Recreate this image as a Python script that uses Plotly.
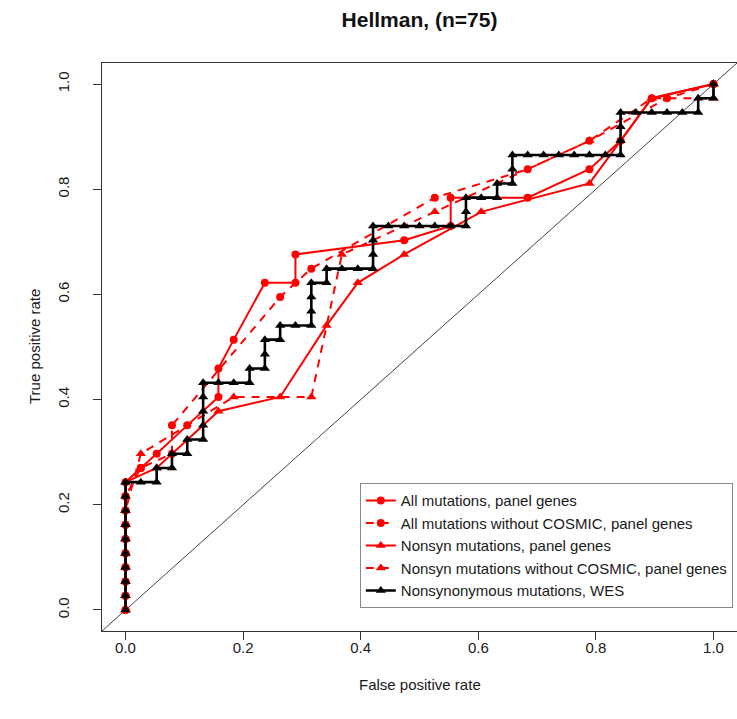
import plotly.graph_objects as go

# ---- data ----
wes_fpr = [0, 0, 0, 0, 0, 0, 0, 0, 0, 0,
           0.026, 0.053, 0.053, 0.079, 0.079, 0.105, 0.105,
           0.132, 0.132, 0.132, 0.132, 0.132, 0.158, 0.184, 0.211, 0.211,
           0.237, 0.237, 0.237, 0.263, 0.263, 0.289, 0.316, 0.316, 0.316, 0.316,
           0.342, 0.342, 0.368, 0.395, 0.421, 0.421, 0.421, 0.421,
           0.447, 0.474, 0.500, 0.526, 0.553, 0.579, 0.579, 0.579,
           0.605, 0.632, 0.632, 0.658, 0.658, 0.658,
           0.684, 0.711, 0.737, 0.763, 0.789, 0.816,
           0.842, 0.842, 0.842, 0.842, 0.868, 0.895, 0.921, 0.947,
           0.974, 0.974, 1.0, 1.0]
wes_tpr = [0, 0.027, 0.054, 0.081, 0.108, 0.135, 0.162, 0.189, 0.216, 0.243,
           0.243, 0.243, 0.270, 0.270, 0.297, 0.297, 0.324,
           0.324, 0.351, 0.378, 0.405, 0.432, 0.432, 0.432, 0.432, 0.459,
           0.459, 0.486, 0.514, 0.514, 0.541, 0.541, 0.541, 0.568, 0.595, 0.622,
           0.622, 0.649, 0.649, 0.649, 0.649, 0.676, 0.703, 0.730,
           0.730, 0.730, 0.730, 0.730, 0.730, 0.730, 0.757, 0.784,
           0.784, 0.784, 0.811, 0.811, 0.838, 0.865,
           0.865, 0.865, 0.865, 0.865, 0.865, 0.865,
           0.865, 0.892, 0.919, 0.946, 0.946, 0.946, 0.946, 0.946,
           0.946, 0.973, 0.973, 1.0]

all_fpr = [0, 0, 0, 0, 0, 0, 0, 0, 0, 0,
           0.026, 0.053, 0.105, 0.158, 0.158, 0.184, 0.237, 0.289, 0.289,
           0.474, 0.553, 0.553, 0.684, 0.789, 0.842, 0.895, 1.0]
all_tpr = [0, 0.027, 0.054, 0.081, 0.108, 0.135, 0.162, 0.189, 0.216, 0.243,
           0.270, 0.297, 0.351, 0.405, 0.459, 0.514, 0.622, 0.622, 0.676,
           0.703, 0.730, 0.784, 0.784, 0.838, 0.892, 0.973, 1.0]

allnc_fpr = [0, 0, 0, 0, 0, 0, 0, 0, 0,
             0.026, 0.079, 0.079, 0.263, 0.316, 0.526, 0.684, 0.789, 0.921, 1.0]
allnc_tpr = [0, 0.027, 0.054, 0.081, 0.108, 0.135, 0.162, 0.189, 0.216,
             0.270, 0.297, 0.351, 0.595, 0.649, 0.784, 0.838, 0.892, 0.973, 1.0]

nons_fpr = [0, 0, 0, 0, 0, 0, 0, 0, 0, 0,
            0.053, 0.158, 0.263, 0.342, 0.395, 0.474, 0.605, 0.789, 0.842, 0.895, 1.0]
nons_tpr = [0, 0.027, 0.054, 0.081, 0.108, 0.135, 0.162, 0.189, 0.216, 0.243,
            0.270, 0.378, 0.405, 0.541, 0.622, 0.676, 0.757, 0.811, 0.892, 0.973, 1.0]

nonsnc_fpr = [0, 0, 0, 0, 0, 0, 0, 0,
              0.026, 0.184, 0.316, 0.368, 0.526, 0.789, 0.895, 1.0, 1.0]
nonsnc_tpr = [0, 0.027, 0.054, 0.081, 0.108, 0.135, 0.162, 0.189,
              0.297, 0.405, 0.405, 0.676, 0.757, 0.892, 0.973, 0.973, 1.0]

series_names = ["All mutations, panel genes",
                "All mutations without COSMIC, panel genes",
                "Nonsyn mutations, panel genes",
                "Nonsyn mutations without COSMIC, panel genes",
                "Nonsynonymous mutations, WES"]

FONT = "Liberation Sans, Arial, sans-serif"
RED = "#ff0000"

fig = go.Figure()

def add(xs, ys, name, color, symbol, dash, width, msize):
    fig.add_trace(go.Scatter(
        x=xs, y=ys, name=name, mode="lines+markers",
        line=dict(color=color, width=width, dash=dash),
        marker=dict(color=color, symbol=symbol, size=msize),
    ))

add(all_fpr, all_tpr, series_names[0], RED, "circle", "solid", 2, 8)
add(allnc_fpr, allnc_tpr, series_names[1], RED, "circle", "8px,7px", 2, 8)
add(nons_fpr, nons_tpr, series_names[2], RED, "triangle-up", "solid", 2, 9)
add(nonsnc_fpr, nonsnc_tpr, series_names[3], RED, "triangle-up", "8px,7px", 2, 9)
add(wes_fpr, wes_tpr, series_names[4], "black", "triangle-up", "solid", 2.6, 9)

# diagonal reference line (abline 0,1)
fig.add_shape(type="line", xref="x", yref="y", x0=-0.04, y0=-0.04, x1=1.04, y1=1.04,
              line=dict(color="#444444", width=1), layer="below")

ticks = [0.0, 0.2, 0.4, 0.6, 0.8, 1.0]
tick_text = ["0.0", "0.2", "0.4", "0.6", "0.8", "1.0"]

axis_common = dict(
    showgrid=False, zeroline=False, showline=True, linecolor="#333333", linewidth=1,
    ticks="outside", ticklen=8, tickcolor="#333333", tickwidth=1,
    tickvals=ticks, ticktext=tick_text,
    tickfont=dict(family=FONT, size=15, color="#1a1a1a"),
    range=[-0.04, 1.04],
)

fig.update_layout(
    width=737, height=719,
    margin=dict(l=102, r=0, t=63, b=88, autoexpand=False),
    paper_bgcolor="white", plot_bgcolor="white",
    title=dict(text="<b>Hellman, (n=75)</b>", x=0.5, xref="paper", xanchor="center",
               y=1 - 20 / 719, yref="container", yanchor="middle",
               font=dict(family=FONT, size=21, color="#111111")),
    xaxis=dict(**axis_common, mirror=True, ticklabelstandoff=-5),
    yaxis=dict(**axis_common, mirror=False, tickangle=-90, ticklabelstandoff=18),
    showlegend=True,
    legend=dict(x=0.406, y=0.04, xanchor="left", yanchor="bottom",
                bgcolor="white", bordercolor="#888888", borderwidth=1,
                font=dict(family=FONT, size=15, color="#1a1a1a"),
                itemwidth=30, tracegroupgap=0),
    annotations=[
        dict(text="False positive rate", xref="paper", yref="paper", x=0.5,
             y=(631 - 684) / 568, xanchor="center", yanchor="middle", showarrow=False,
             font=dict(family=FONT, size=15, color="#1a1a1a")),
        dict(text="True positive rate", xref="paper", yref="paper", x=(34 - 102) / 635,
             y=0.5, xanchor="center", yanchor="middle", showarrow=False, textangle=-90,
             font=dict(family=FONT, size=15, color="#1a1a1a")),
    ],
)

fig.write_html("out.html", config={"displayModeBar": False})

# remove the browser's default page margin so the figure sits at the window origin
with open("out.html", "r", encoding="utf-8") as f:
    html = f.read()
html = html.replace("<head>", "<head><style>html,body{margin:0;padding:0;overflow:hidden;}</style>", 1)
with open("out.html", "w", encoding="utf-8") as f:
    f.write(html)
